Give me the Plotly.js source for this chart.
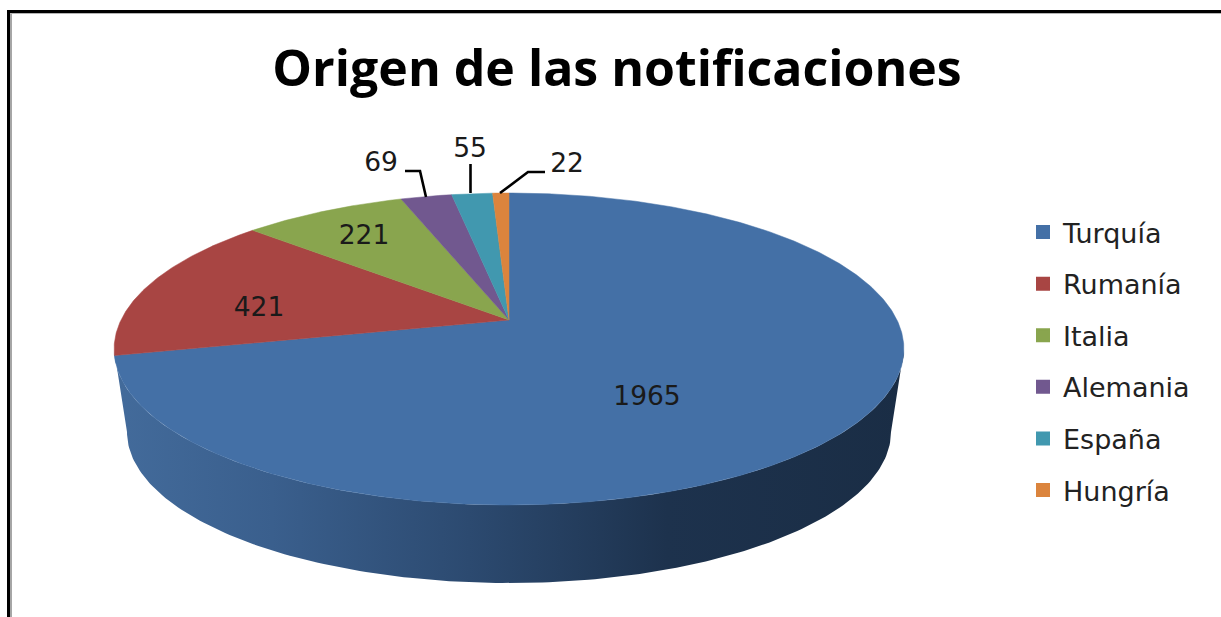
<!DOCTYPE html>
<html>
<head>
<meta charset="utf-8">
<script src="https://cdn.plot.ly/plotly-3.0.1.min.js"></script>
<style>html,body{margin:0;padding:0;background:#fff;overflow:hidden}#c{width:1221px;height:617px}</style>
</head>
<body>
<div id="c"></div>
<script>
const categories = ["Turquía", "Rumanía", "Italia", "Alemania", "España", "Hungría"];
const values = [1965, 421, 221, 69, 55, 22];
const colors = ["#4470A6", "#A84543", "#89A54E", "#71588F", "#4198AF", "#DB843D"];
const labelX = [647, 259, 364, 381, 470, 567];
const labelY = [398, 309, 237, 164, 150, 165];
const leaders = [
  [[405, 420, 426], [171, 171, 197]],
  [[470.5, 470.5], [164, 193]],
  [[545, 528, 500], [172, 172, 193]]
];

// Perspective view of the pie's top face (axes are in picture units)
const apexX = 509, apexY = 320, kx = 388, ky = 150.6, persp = 0.186;
function rim(deg) {
  const t = deg * Math.PI / 180, u = Math.sin(t), v = Math.cos(t), w = 1 + persp * v;
  return [apexX + kx * u / w, apexY - ky * v / w];
}
const total = values.reduce((a, b) => a + b, 0);
const traces = [];

// Side wall of the pie
const sideX = [], sideY = [];
const topCx = 509, topCy = 349, topRx = 395, topRy = 156;
const botCx = 509, botCy = 432, botRx = 382, botRy = 151;
for (let a = 180; a >= 0; a -= 1) {
  const t = a * Math.PI / 180;
  sideX.push(topCx + topRx * Math.cos(t)); sideY.push(topCy + topRy * Math.sin(t));
}
for (let a = 0; a <= 180; a += 1) {
  const t = a * Math.PI / 180;
  sideX.push(botCx + botRx * Math.cos(t)); sideY.push(botCy + botRy * Math.sin(t));
}
sideX.push(sideX[0]); sideY.push(sideY[0]);
traces.push({
  type: "scatter", mode: "lines", x: sideX, y: sideY, fill: "toself", showlegend: false,
  hoverinfo: "skip", line: {width: 0, color: "rgba(0,0,0,0)"},
  fillgradient: {type: "horizontal", colorscale: [
    [0, "#436B9B"], [0.2, "#3A5F8D"], [0.45, "#2C4A70"], [0.7, "#1D324D"], [1, "#1A2D45"]
  ]}
});

// Top-face slices
let acc = 0;
values.forEach((val, i) => {
  const start = acc / total * 360, end = (acc + val) / total * 360;
  acc += val;
  const xs = [apexX], ys = [apexY];
  const n = Math.max(4, Math.ceil((end - start) * 2));
  for (let j = 0; j <= n; j++) {
    const p = rim(start + (end - start) * j / n);
    xs.push(p[0]); ys.push(p[1]);
  }
  xs.push(apexX); ys.push(apexY);
  traces.push({
    type: "scatter", mode: "lines", x: xs, y: ys, fill: "toself", fillcolor: colors[i],
    line: {width: 0.5, color: colors[i]}, showlegend: false, hoverinfo: "skip"
  });
});

// Leader lines
leaders.forEach(l => traces.push({
  type: "scatter", mode: "lines", x: l[0], y: l[1], showlegend: false, hoverinfo: "skip",
  line: {color: "#000", width: 2.6}
}));

// Data labels
traces.push({
  type: "scatter", mode: "text", x: labelX, y: labelY, text: values.map(String),
  textposition: "middle center", showlegend: false, hoverinfo: "skip",
  textfont: {family: "DejaVu Sans", size: 26.5, color: "#1a1a1a"}
});

// Legend entries
categories.forEach((c, i) => traces.push({
  type: "scatter", mode: "markers", x: [null], y: [null], name: c, legendgroup: c,
  marker: {symbol: "square", size: 16, color: colors[i], line: {width: 3, color: colors[i]}}
}));

const layout = {
  width: 1221, height: 617, margin: {l: 0, r: 0, t: 0, b: 0},
  paper_bgcolor: "#fff", plot_bgcolor: "#fff", hovermode: false,
  xaxis: {range: [0, 1221], visible: false, fixedrange: true},
  yaxis: {range: [617, 0], visible: false, fixedrange: true},
  title: {
    text: "<b>Origen de las notificaciones</b>", x: 617 / 1221, xanchor: "center", xref: "paper",
    y: 1 - 68 / 617, yanchor: "middle", yref: "paper",
    font: {family: "Open Sans", size: 50, color: "#000"}
  },
  legend: {
    x: 1023 / 1221, xanchor: "left", y: 1 - 208 / 617, yanchor: "top", tracegroupgap: 13.5,
    font: {family: "DejaVu Sans", size: 27, color: "#222"}, bgcolor: "rgba(0,0,0,0)",
    itemsizing: "constant", itemclick: false, itemdoubleclick: false
  },
  shapes: [
    {type: "rect", xref: "x", yref: "y", x0: 7, x1: 10, y0: 10, y1: 617, fillcolor: "#000", line: {width: 0}},
    {type: "rect", xref: "x", yref: "y", x0: 7, x1: 1221, y0: 10, y1: 13, fillcolor: "#000", line: {width: 0}},
    {type: "rect", xref: "x", yref: "y", x0: 10, x1: 12, y0: 13, y1: 617, fillcolor: "#A6A6A6", line: {width: 0}},
    {type: "rect", xref: "x", yref: "y", x0: 10, x1: 1221, y0: 13, y1: 14, fillcolor: "#B4B4B4", line: {width: 0}}
  ]
};
Plotly.newPlot("c", traces, layout, {staticPlot: true, displayModeBar: false});
</script>
</body>
</html>
